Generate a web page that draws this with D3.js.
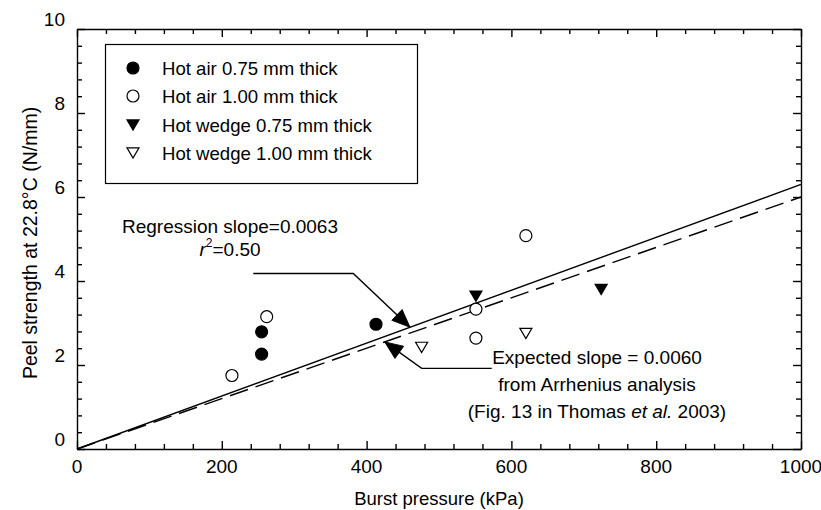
<!DOCTYPE html>
<html>
<head>
<meta charset="utf-8">
<script src="https://cdn.jsdelivr.net/npm/d3@7"></script>
<style>
  body { margin: 0; background: #fff; }
  svg text { font-family: "Liberation Sans", Arial, sans-serif; fill: #000; }
</style>
</head>
<body>
<svg class="chart"></svg>
<script>
// series: [burst pressure kPa, peel strength N/mm]
var hotAir075 = [[255, 2.26], [255, 2.79], [413, 2.97]];
var hotAir100 = [[214, 1.75], [262, 3.15], [551, 3.33], [551, 2.64], [620, 5.08]];
var wedge075 = [[551, 3.64], [724, 3.80]];
var wedge100 = [[476, 2.42], [620, 2.75]];

var regressionSlope = 0.0063;
var expectedSlope = 0.0060;

var xTickLabels = [0, 200, 400, 600, 800, 1000];
var yTickLabels = [0, 2, 4, 6, 8, 10];

var legendLabels = [
  'Hot air 0.75 mm thick',
  'Hot air 1.00 mm thick',
  'Hot wedge 0.75 mm thick',
  'Hot wedge 1.00 mm thick'
];

var W = 821, H = 510;
var plot = { left: 77, right: 801, top: 29, bottom: 449 };

var svg = d3.select('svg.chart')
  .attr('width', W)
  .attr('height', H);

var x = d3.scaleLinear().domain([0, 1000]).range([plot.left, plot.right]);
var y = d3.scaleLinear().domain([0, 10]).range([plot.bottom, plot.top]);

// minor ticks every 40 kPa / 0.4 N/mm, longer ones at labelled values
var xTicks = d3.range(0, 1000.1, 40);
var yTicks = d3.range(0, 10.01, 0.4);
var isMajorX = function (v) { return Math.abs(v / 200 - Math.round(v / 200)) < 1e-6; };
var isMajorY = function (v) { return Math.abs(v / 2 - Math.round(v / 2)) < 1e-6; };

var frame = svg.append('g');

// bottom + top axes, ticks pointing inward
frame.append('g')
  .attr('transform', 'translate(0,' + plot.bottom + ')')
  .call(d3.axisBottom(x).tickValues(xTicks).tickSizeInner(0).tickSizeOuter(0).tickFormat(''))
  .call(function (g) {
    g.selectAll('.tick line').attr('y2', function (d) { return isMajorX(d) ? -8 : -5; });
  });
frame.append('g')
  .attr('transform', 'translate(0,' + plot.top + ')')
  .call(d3.axisTop(x).tickValues(xTicks).tickSizeInner(0).tickSizeOuter(0).tickFormat(''))
  .call(function (g) {
    g.selectAll('.tick line').attr('y2', function (d) { return isMajorX(d) ? 8 : 5; });
  });
frame.append('g')
  .attr('transform', 'translate(' + plot.left + ',0)')
  .call(d3.axisLeft(y).tickValues(yTicks).tickSizeInner(0).tickSizeOuter(0).tickFormat(''))
  .call(function (g) {
    g.selectAll('.tick line').attr('x2', function (d) { return isMajorY(d) ? 8 : 5; });
  });
frame.append('g')
  .attr('transform', 'translate(' + plot.right + ',0)')
  .call(d3.axisRight(y).tickValues(yTicks).tickSizeInner(0).tickSizeOuter(0).tickFormat(''))
  .call(function (g) {
    g.selectAll('.tick line').attr('x2', function (d) { return isMajorY(d) ? -8 : -5; });
  });

frame.selectAll('path.domain, .tick line')
  .attr('stroke', '#000')
  .attr('stroke-width', 1.4);

// tick labels (the original sets the y labels a little above their ticks)
svg.append('g').selectAll('text')
  .data(xTickLabels)
  .enter().append('text')
  .attr('x', function (d) { return x(d); })
  .attr('y', plot.bottom + 17)
  .attr('text-anchor', 'middle')
  .attr('dominant-baseline', 'central')
  .style('font-size', '19px')
  .text(function (d) { return d; });

svg.append('g').selectAll('text')
  .data(yTickLabels)
  .enter().append('text')
  .attr('x', plot.left - 12)
  .attr('y', function (d) { return y(d) - 10; })
  .attr('text-anchor', 'end')
  .attr('dominant-baseline', 'central')
  .style('font-size', '19px')
  .text(function (d) { return d; });

svg.append('text')
  .attr('x', 439)
  .attr('y', 498)
  .attr('text-anchor', 'middle')
  .attr('dominant-baseline', 'central')
  .style('font-size', '18.5px')
  .text('Burst pressure (kPa)');

svg.append('text')
  .attr('transform', 'translate(30,243) rotate(-90)')
  .attr('text-anchor', 'middle')
  .attr('dominant-baseline', 'central')
  .style('font-size', '19.5px')
  .text('Peel strength at 22.8\u00B0C (N/mm)');

// fit lines through the origin
var line = d3.line()
  .x(function (d) { return x(d[0]); })
  .y(function (d) { return y(d[1]); });

svg.append('path')
  .datum([[0, 0], [1000, 1000 * regressionSlope]])
  .attr('d', line)
  .attr('fill', 'none')
  .attr('stroke', '#000')
  .attr('stroke-width', 1.4);

svg.append('path')
  .datum([[0, 0], [1000, 1000 * expectedSlope]])
  .attr('d', line)
  .attr('fill', 'none')
  .attr('stroke', '#000')
  .attr('stroke-width', 1.4)
  .attr('stroke-dasharray', '19,8');

// markers
var downTriangle = function (s) {
  var w = s / 2, h = s * 0.85 / 2;
  return 'M' + (-w) + ',' + (-h) + 'L' + w + ',' + (-h) + 'L0,' + h + 'Z';
};

var drawCircles = function (g, data, filled) {
  g.selectAll(null)
    .data(data)
    .enter().append('circle')
    .attr('cx', function (d) { return x(d[0]); })
    .attr('cy', function (d) { return y(d[1]); })
    .attr('r', 6)
    .attr('fill', filled ? '#000' : '#fff')
    .attr('stroke', '#000')
    .attr('stroke-width', 1.2);
};

var drawTriangles = function (g, data, filled) {
  g.selectAll(null)
    .data(data)
    .enter().append('path')
    .attr('transform', function (d) { return 'translate(' + x(d[0]) + ',' + y(d[1]) + ')'; })
    .attr('d', downTriangle(12))
    .attr('fill', filled ? '#000' : '#fff')
    .attr('stroke', '#000')
    .attr('stroke-width', 1.2);
};

var points = svg.append('g');
drawCircles(points, hotAir075, true);
drawCircles(points, hotAir100, false);
drawTriangles(points, wedge075, true);
drawTriangles(points, wedge100, false);

// legend
var legend = svg.append('g');
legend.append('rect')
  .attr('x', 105.5).attr('y', 44.5)
  .attr('width', 312).attr('height', 139)
  .attr('fill', '#fff')
  .attr('stroke', '#000')
  .attr('stroke-width', 1.2);

var legendRows = [68, 96, 125, 153];
legendLabels.forEach(function (label, i) {
  var row = legend.append('g').attr('transform', 'translate(133,' + legendRows[i] + ')');
  if (i < 2) {
    row.append('circle').attr('r', 6)
      .attr('fill', i === 0 ? '#000' : '#fff')
      .attr('stroke', '#000').attr('stroke-width', 1.2);
  } else {
    row.append('path').attr('d', downTriangle(12))
      .attr('fill', i === 2 ? '#000' : '#fff')
      .attr('stroke', '#000').attr('stroke-width', 1.2);
  }
  row.append('text')
    .attr('x', 29)
    .attr('dominant-baseline', 'central')
    .style('font-size', '18.6px')
    .text(label);
});

// annotations with elbow arrows pointing at each line
var regTip = 460, expTip = 425;
var arrows = [
  [[243.5, 4.18], [381.6, 4.18], [regTip, regTip * regressionSlope]],
  [[572.8, 1.92], [476.1, 1.92], [expTip, expTip * expectedSlope]]
];

var arrowLayer = svg.append('g');
arrows.forEach(function (pts) {
  var n = pts.length;
  var tx = x(pts[n - 1][0]), ty = y(pts[n - 1][1]);
  var ex = x(pts[n - 2][0]), ey = y(pts[n - 2][1]);
  var ang = Math.atan2(ty - ey, tx - ex) * 180 / Math.PI;

  arrowLayer.append('path')
    .attr('d', line(pts))
    .attr('fill', 'none')
    .attr('stroke', '#000')
    .attr('stroke-width', 1.4);

  arrowLayer.append('path')
    .attr('transform', 'translate(' + tx + ',' + ty + ') rotate(' + ang + ')')
    .attr('d', 'M0,0L-18,-7.5L-18,7.5Z')
    .attr('fill', '#000')
    .attr('stroke', '#000')
    .attr('stroke-width', 0.8)
    .attr('stroke-linejoin', 'miter');
});

var note = svg.append('g')
  .attr('text-anchor', 'middle')
  .style('font-size', '19px');

note.append('text')
  .attr('x', 230).attr('y', 226)
  .attr('dominant-baseline', 'central')
  .text('Regression slope=0.0063');

var r2 = note.append('text')
  .attr('x', 230).attr('y', 249)
  .attr('dominant-baseline', 'central');
r2.append('tspan').style('font-style', 'italic').text('r');
r2.append('tspan').attr('dy', -6).style('font-size', '12px').text('2');
r2.append('tspan').attr('dy', 6).text('=0.50');

note.append('text')
  .attr('x', 597).attr('y', 357)
  .attr('dominant-baseline', 'central')
  .text('Expected slope = 0.0060');

note.append('text')
  .attr('x', 597).attr('y', 384)
  .attr('dominant-baseline', 'central')
  .text('from Arrhenius analysis');

var cite = note.append('text')
  .attr('x', 597).attr('y', 411)
  .attr('dominant-baseline', 'central');
cite.append('tspan').text('(Fig. 13 in Thomas ');
cite.append('tspan').style('font-style', 'italic').text('et al.');
cite.append('tspan').text(' 2003)');
</script>
</body>
</html>
